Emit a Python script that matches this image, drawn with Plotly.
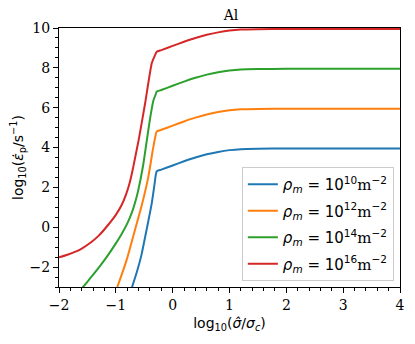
import plotly.graph_objects as go

# log10(sigma_hat / sigma_c) and log10(strain rate) for each dislocation density
x_rho10 = [-0.74, -0.715, -0.62, -0.55, -0.45, -0.40, -0.368, -0.322, -0.30, -0.28,
           -0.2, 0.0, 0.2, 0.4, 0.6, 0.8, 1.0, 1.2, 1.5, 2.0, 3.0, 4.0]
y_rho10 = [-3.2, -3.0, -2.15, -1.4, 0.0, 0.72, 1.2, 2.1, 2.58, 2.81,
           2.89, 3.10, 3.31, 3.50, 3.66, 3.78, 3.87, 3.92, 3.94, 3.95, 3.95, 3.95]

x_rho12 = [-1.0, -0.974, -0.8, -0.65, -0.544, -0.428, -0.35, -0.30, -0.28,
           -0.2, 0.0, 0.2, 0.4, 0.6, 0.8, 1.0, 1.2, 1.5, 2.0, 3.0, 4.0]
y_rho12 = [-3.2, -3.0, -1.55, 0.0, 1.1, 2.53, 3.87, 4.62, 4.81,
           4.89, 5.10, 5.31, 5.50, 5.66, 5.78, 5.87, 5.92, 5.94, 5.95, 5.95, 5.95]

x_rho14 = [-1.62, -1.577, -1.45, -1.28, -1.15, -1.02, -0.9, -0.8, -0.72, -0.665, -0.61, -0.52,
           -0.463, -0.398, -0.34, -0.30, -0.28,
           -0.2, 0.0, 0.2, 0.4, 0.6, 0.8, 1.0, 1.2, 1.5, 2.0, 3.0, 4.0]
y_rho14 = [-3.14, -3.0, -2.56, -1.95, -1.45, -0.9, -0.35, 0.18, 0.72, 1.2, 1.8, 3.1,
           4.2, 5.45, 6.35, 6.66, 6.81,
           6.89, 7.10, 7.31, 7.50, 7.66, 7.78, 7.87, 7.92, 7.94, 7.95, 7.95, 7.95]

x_rho16 = [-2.0, -1.85, -1.72, -1.6, -1.43, -1.3, -1.14, -1.0, -0.9, -0.82, -0.755, -0.71,
           -0.667, -0.597, -0.486, -0.368, -0.31, -0.28,
           -0.2, 0.0, 0.2, 0.4, 0.6, 0.8, 1.0, 1.2, 1.5, 2.0, 3.0, 4.0]
y_rho16 = [-1.51, -1.38, -1.24, -1.07, -0.74, -0.42, 0.10, 0.62, 1.1, 1.65, 2.25, 2.8,
           3.4, 4.4, 6.2, 8.23, 8.64, 8.81,
           8.89, 9.10, 9.31, 9.50, 9.66, 9.78, 9.87, 9.92, 9.94, 9.95, 9.95, 9.95]

exponents = ["10", "12", "14", "16"]
colors = ["#1f77b4", "#ff7f0e", "#2ca02c", "#d62728"]

series = [(x_rho10, y_rho10), (x_rho12, y_rho12), (x_rho14, y_rho14), (x_rho16, y_rho16)]

serif = "DejaVu Serif"
sans = "DejaVu Sans"

fig = go.Figure()
for (xs, ys), e, c in zip(series, exponents, colors):
    nome = (f"<i>ρ<sub>m</sub></i> = 10<sup>{e}</sup>"
            f"<span style='font-family:{serif}'>m</span><sup>−2</sup>")
    fig.add_trace(go.Scatter(x=xs, y=ys, mode="lines", name=nome,
                             line=dict(color=c, width=2, shape="spline", smoothing=0.5),
                             legendgroup=e))

eixo = dict(showline=True, linecolor="black", linewidth=1, mirror=True,
            ticks="outside", ticklen=5, tickwidth=1, tickcolor="black",
            showgrid=False, zeroline=False, automargin=False,
            tickfont=dict(family=serif, size=14, color="black"))

# a pagina tem 8px de margem no body: a figura comeca em (8, 8)
fig.update_layout(
    width=407, height=336,
    margin=dict(l=51, r=15, t=20, b=57),
    plot_bgcolor="white", paper_bgcolor="white",
    font=dict(family=sans, color="black"),
    title=dict(text="Al", x=0.548, xanchor="center", y=0.979, yanchor="middle",
               font=dict(family=serif, size=14)),
    xaxis=dict(range=[-2, 4], dtick=1, tick0=0,
               minor=dict(dtick=0.2, tick0=0, ticks="outside", ticklen=3, tickcolor="black"),
               title=dict(text="log<sub>10</sub>(<i>σ̂</i>/<i>σ<sub>c</sub></i>)",
                          font=dict(size=14), standoff=6),
               **eixo),
    yaxis=dict(range=[-3, 10], dtick=2, tick0=0,
               minor=dict(dtick=0.5, tick0=0, ticks="outside", ticklen=3, tickcolor="black"),
               title=dict(text="log<sub>10</sub>(<i>ε̇</i><sub>p</sub>/s<sup>−1</sup>)",
                          font=dict(size=14), standoff=6),
               **eixo),
    legend=dict(x=0.982, xanchor="right", y=0.023, yanchor="bottom",
                bgcolor="rgba(255,255,255,0.8)", bordercolor="#cccccc", borderwidth=1,
                font=dict(family=sans, size=15), itemwidth=30,
                traceorder="grouped", tracegroupgap=4),
)

fig.write_html("out.html")
